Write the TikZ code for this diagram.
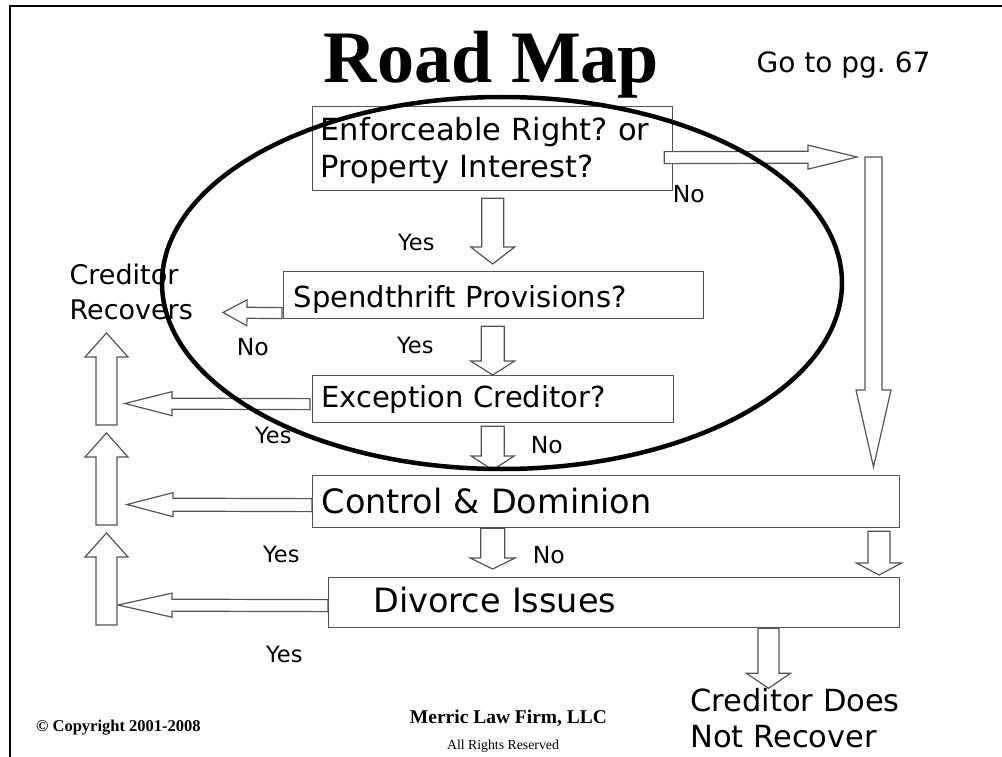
\documentclass[tikz,border=0pt]{standalone}
\usepackage{fontspec}
\setmainfont{DejaVu Sans}
\newfontfamily\timesfont{Liberation Serif}
\usetikzlibrary{calc}
\frenchspacing

\definecolor{edge}{gray}{0.33}

\tikzset{
  % rectangular question / decision boxes
  flowbox/.style={draw=edge, line width=1.3pt, fill=white, inner ysep=0pt,
    align=left, anchor=north west},
  % hollow block arrow: shaft half width, head half width, head length
  blk/.style n args={3}{draw=edge, line width=1.2pt, fill=white, line join=miter,
    to path={let \p1=(\tikztostart), \p2=(\tikztotarget),
                 \p3=($(\p2)!#3!(\p1)$) in
      ($(\p1)!#1!90:(\p2)$) -- ($(\p3)!#1!90:(\p2)$) -- ($(\p3)!#2!90:(\p2)$)
      -- (\p2)
      -- ($(\p3)!#2!-90:(\p2)$) -- ($(\p3)!#1!-90:(\p2)$) -- ($(\p1)!#1!-90:(\p2)$)
      -- cycle}},
  yes/.style={anchor=base west, inner sep=0pt, font=\fontsize{22.5}{27}\selectfont},
  no/.style={anchor=base west, inner sep=0pt, font=\fontsize{23.5}{28}\selectfont},
}

\begin{document}
\begin{tikzpicture}[x=1pt, y=-1pt]
\useasboundingbox (0,0) rectangle (1002,757);

% page frame
\draw[line width=2pt] (10,757) -- (10,6) -- (1002,6);

% heading
\node[anchor=base, inner sep=0pt, font=\timesfont\bfseries\fontsize{74}{80}\selectfont]
  (title) at (491.5,83) {Road Map};
\node[anchor=base west, inner sep=0pt, font=\fontsize{28}{33}\selectfont]
  (goto) at (756.5,73) {Go to pg. 67};

% decision boxes
\node[flowbox, text width=344pt, inner xsep=8pt, text height=71pt, text depth=13pt,
      font=\fontsize{30.5}{37.5}\selectfont]
  (b1) at (312,106)
  {\begin{tabular}[b]{@{}l@{}}Enforceable Right? or\\Property Interest?\end{tabular}};
\node[flowbox, text width=400pt, inner xsep=10pt, text height=35.7pt, text depth=11.3pt,
      font=\fontsize{29}{35}\selectfont]
  (b2) at (283,271) {Spendthrift Provisions?};
\node[flowbox, text width=344pt, inner xsep=8.5pt, text height=31.7pt, text depth=15.3pt,
      font=\fontsize{29}{35}\selectfont]
  (b3) at (312,375) {Exception Creditor?};
\node[flowbox, text width=569pt, inner xsep=9pt, text height=38pt, text depth=14pt,
      font=\fontsize{33.5}{40}\selectfont]
  (b4) at (312,475) {Control \& Dominion};
\node[flowbox, text width=481.6pt, inner xsep=44.7pt, text height=34.7pt, text depth=15.3pt,
      font=\fontsize{33.5}{40}\selectfont]
  (b5) at (328,577) {Divorce Issues};

% outcomes
\node[anchor=south west, align=left, inner sep=0pt, font=\fontsize{27}{35}\selectfont]
  (rec) at (69.4,320) {Creditor\\Recovers};
\node[anchor=south west, align=left, inner sep=0pt, font=\fontsize{30.5}{36}\selectfont]
  (norec) at (690.3,748) {Creditor Does\\Not Recover};

% arrow end points
\coordinate (a1s) at ($(b1.south)+(0,7)$);
\coordinate (a1e) at ($(b1.south |- b2.north)+(0,-7)$);
\coordinate (a2s) at ($(a1s |- b2.south)+(0,7)$);
\coordinate (a2e) at (a1s |- b3.north);
\coordinate (a3s) at ($(a1s |- b3.south)+(0,3)$);
\coordinate (a3e) at ($(a1s |- b4.north)+(0,-5)$);
\coordinate (a4s) at (a1s |- b4.south);
\coordinate (a4e) at ($(a1s |- b5.north)+(0,-8)$);
\coordinate (a5s) at ($(879,0 |- b4.south)+(0,3)$);
\coordinate (a5e) at ($(879,0 |- b5.north)+(0,-2)$);
\coordinate (a6s) at (768.5,0 |- b5.south);
\coordinate (a6e) at ($(a6s)+(0,60)$);
\coordinate (a8s) at ($(b1.east)+(-9,9)$);
\coordinate (a8e) at (857,157);
\coordinate (a7s) at (873.5,157);
\coordinate (a7e) at ($(873.5,0 |- b4.north)+(0,-8)$);
\coordinate (a9s) at ($(b2.west)+(-1,18)$);
\coordinate (a9e) at (223,312.5);
\coordinate (a10s) at ($(b3.west)+(-2,5)$);
\coordinate (a10e) at (125,403.5);
\coordinate (a11s) at ($(b4.west)+(0,3.5)$);
\coordinate (a11e) at (127,504.5);
\coordinate (a12s) at ($(b5.west)+(0,3)$);
\coordinate (a12e) at (118,605);
\coordinate (u1s) at (106.5,425);
\coordinate (u1e) at (106.5,333);
\coordinate (u2s) at (106.5,525);
\coordinate (u2e) at (106.5,433);
\coordinate (u3s) at (106.5,625);
\coordinate (u3e) at (106.5,533);

% main column
\draw[blk={11pt}{22pt}{17pt}] (a1s) to (a1e);
\draw[blk={11.5pt}{22pt}{14pt}] (a2s) to (a2e);
\draw[blk={11.5pt}{21.5pt}{14pt}] (a3s) to (a3e);
\draw[blk={12pt}{22.5pt}{11pt}] (a4s) to (a4e);
% right side path
\draw[blk={6pt}{12pt}{49pt}] (a8s) to (a8e);
\draw[blk={8.5pt}{17.5pt}{77pt}] (a7s) to (a7e);
\draw[blk={11pt}{22.5pt}{12pt}] (a5s) to (a5e);
\draw[blk={10.5pt}{22pt}{15pt}] (a6s) to (a6e);
% branches to the left
\draw[blk={5.5pt}{13pt}{24pt}] (a9s) to (a9e);
\draw[blk={5.5pt}{12pt}{47pt}] (a10s) to (a10e);
\draw[blk={6.5pt}{12pt}{46pt}] (a11s) to (a11e);
\draw[blk={6pt}{12pt}{54pt}] (a12s) to (a12e);
% column up to "Creditor Recovers"
\draw[blk={10.5pt}{21.5pt}{24pt}] (u1s) to (u1e);
\draw[blk={10.5pt}{21.5pt}{24pt}] (u2s) to (u2e);
\draw[blk={10.5pt}{21.5pt}{24pt}] (u3s) to (u3e);

% answers
\node[yes] (y1) at (398,251) {Yes};
\node[yes] (y2) at (397,353) {Yes};
\node[yes] (y3) at (255,443) {Yes};
\node[yes] (y4) at (263,562) {Yes};
\node[yes] (y5) at (266,662) {Yes};
\node[no] (n1) at (672.7,203) {No};
\node[no] (n2) at (236.7,355) {No};
\node[no] (n3) at (530.7,453) {No};
\node[no] (n4) at (532.7,563) {No};

% footer
\node[anchor=base west, inner sep=0pt, font=\timesfont\bfseries\fontsize{16.5}{20}\selectfont]
  (copy) at (36,731.5) {© Copyright 2001-2008};
\node[anchor=base, inner sep=0pt, font=\timesfont\bfseries\fontsize{19.5}{23}\selectfont]
  (firm) at (508.5,723) {Merric Law Firm, LLC};
\node[anchor=base, inner sep=0pt, font=\timesfont\fontsize{13.8}{16}\selectfont]
  (rights) at (503,749) {All Rights Reserved};

% emphasis ring around the first three questions
\draw[line width=4.5pt] (502,283) ellipse [x radius=340, y radius=186];
\end{tikzpicture}
\end{document}
